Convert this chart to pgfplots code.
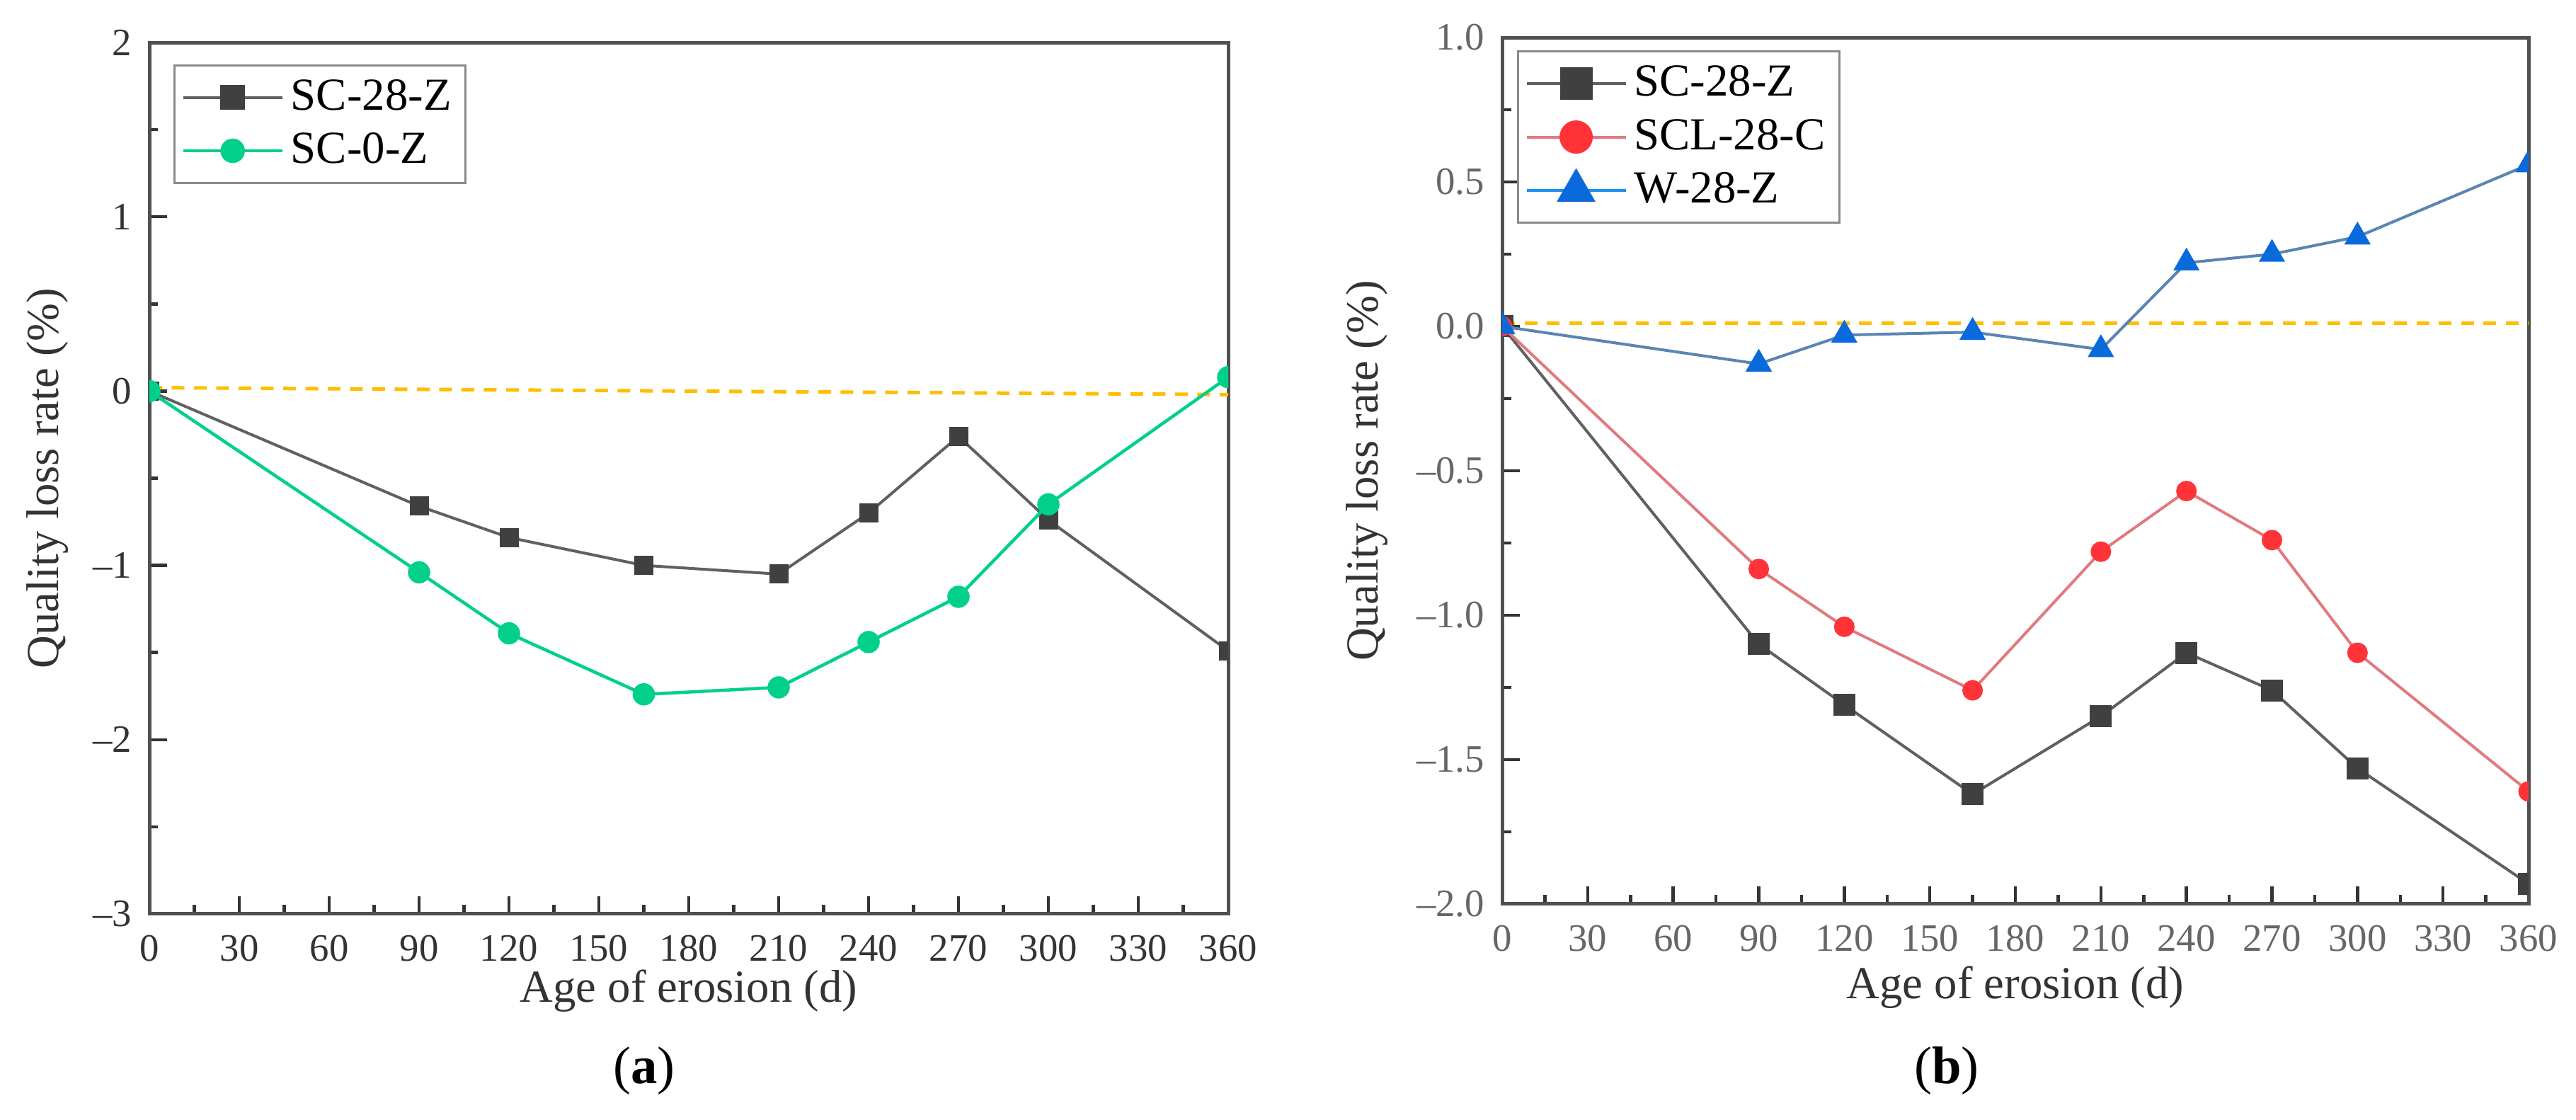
\documentclass[border=0pt]{standalone}
\usepackage{fontspec}
\setmainfont{Liberation Serif}
\usepackage{pgfplots}
\pgfplotsset{compat=1.18}

\definecolor{axgray}{HTML}{505050}
\definecolor{lgray}{HTML}{8A8A8A}
\definecolor{scline}{HTML}{606060}
\definecolor{scmark}{HTML}{404040}
\definecolor{szgreen}{HTML}{00D08A}
\definecolor{sclline}{HTML}{E07A80}
\definecolor{sclmark}{HTML}{FF3338}
\definecolor{wline}{HTML}{5A84B4}
\definecolor{wmark}{HTML}{0A6ADC}
\definecolor{wleg}{HTML}{2090F0}
\definecolor{refline}{HTML}{FFBE00}

\pgfplotsset{
  panel/.style={
    scale only axis, anchor=south west,
    xmin=0, xmax=360, xtick={0,30,...,360}, minor x tick num=1,
    tick align=inside, tick pos=left,
    major tick length=5bp, minor tick length=2.5bp,
    axis line style={line width=1bp, color=axgray},
    every tick/.style={line width=0.9bp, color=black!80},
    /pgf/number format/assume math mode=true,
    ticklabel style={font=\fontsize{11}{13}\selectfont},
    xticklabel style={yshift=-2.5bp},
    yticklabel style={xshift=-1.5bp},
    label style={font=\fontsize{13}{15}\selectfont, text=black!80},
    xlabel={Age of erosion (d)},
    ylabel={Quality loss rate (\%)},
    clip marker paths=true,
    legend cell align=left,
    legend image code/.code={\draw[mark repeat=2,mark phase=2,##1]
      plot coordinates {(0bp,0bp) (14bp,0bp) (28bp,0bp)};},
    legend style={anchor=north west, draw=lgray, line width=0.6bp,
      font=\fontsize{13}{15}\selectfont, inner xsep=2bp, inner ysep=2bp,
      row sep=1bp},
  },
  dashref/.style={color=refline, line width=1bp, dash pattern=on 3.6bp off 2.7bp, forget plot},
  scA/.style={color=scline, line width=0.8bp, mark=square*, mark options={solid, fill=scmark, draw=scmark}},
  szA/.style={color=szgreen, line width=0.9bp, mark=*, mark options={solid, fill=szgreen, draw=szgreen}},
  sclB/.style={color=sclline, line width=0.8bp, mark=*, mark options={solid, fill=sclmark, draw=sclmark}},
  wB/.style={color=wline, line width=0.8bp, mark=triangle*, mark options={solid, fill=wmark, draw=wmark}},
}

\begin{document}
\begin{tikzpicture}
\path (0,0) rectangle (727.8bp,316.4bp);

% (a)
\begin{axis}[panel,
  at={(42.2bp,58.2bp)}, width=304.8bp, height=246.2bp,
  ymin=-3, ymax=2, ytick={-3,-2,-1,0,1,2},
  yticklabels={–3,–2,–1,0,1,2}, minor y tick num=1,
  ticklabel style={text=black!80},
  xlabel style={at={(axis description cs:0.5,0)}, anchor=center, yshift=-21.8bp},
  ylabel style={at={(axis description cs:0,0.5)}, anchor=center, yshift=28.8bp},
  legend style={at={(0.0223,0.975)}},
]
\addplot[dashref] coordinates {(0,0.02) (360,-0.02)};
\addplot[scA, mark size=2.3bp, forget plot] coordinates {
  (0,0) (90,-0.66) (120,-0.84) (165,-1.00) (210,-1.05)
  (240,-0.70) (270,-0.26) (300,-0.74) (360,-1.49)};
\addplot[szA, mark size=2.7bp, forget plot] coordinates {
  (0,0) (90,-1.04) (120,-1.39) (165,-1.74) (210,-1.70)
  (240,-1.44) (270,-1.18) (300,-0.65) (360,0.08)};
\addlegendimage{scA, mark size=3.1bp}
\addlegendentry{SC-28-Z}
\addlegendimage{szA, mark size=3.0bp}
\addlegendentry{SC-0-Z}
\end{axis}

% (b)
\begin{axis}[panel,
  at={(424.4bp,61bp)}, width=290bp, height=244.8bp,
  ymin=-2, ymax=1, ytick={-2,-1.5,-1,-0.5,0,0.5,1},
  yticklabels={–2.0,–1.5,–1.0,–0.5,0.0,0.5,1.0}, minor y tick num=1,
  ticklabel style={text=black!60},
  xlabel style={at={(axis description cs:0.5,0)}, anchor=center, yshift=-23.6bp},
  ylabel style={at={(axis description cs:0,0.5)}, anchor=center, yshift=38.2bp},
  legend style={at={(0.0145,0.985)}},
]
\addplot[dashref] coordinates {(0,0.01) (360,0.01)};
\addplot[scA, mark size=2.7bp, forget plot] coordinates {
  (0,0) (90,-1.10) (120,-1.31) (165,-1.62) (210,-1.35)
  (240,-1.13) (270,-1.26) (300,-1.53) (360,-1.93)};
\addplot[sclB, mark size=2.5bp, forget plot] coordinates {
  (0,0) (90,-0.84) (120,-1.04) (165,-1.26) (210,-0.78)
  (240,-0.57) (270,-0.74) (300,-1.13) (360,-1.61)};
\addplot[wB, mark size=3.5bp, forget plot] coordinates {
  (0,0) (90,-0.13) (120,-0.03) (165,-0.02) (210,-0.08)
  (240,0.22) (270,0.25) (300,0.31) (360,0.56)};
\addlegendimage{scA, mark size=4.2bp}
\addlegendentry{SC-28-Z}
\addlegendimage{sclB, mark size=4.3bp}
\addlegendentry{SCL-28-C}
\addlegendimage{wB, color=wleg, mark size=5.5bp}
\addlegendentry{W-28-Z}
\end{axis}

\node[font=\fontsize{15}{17}\selectfont] at (182bp,13.8bp) {(\textbf{a})};
\node[font=\fontsize{15}{17}\selectfont] at (550bp,13.8bp) {(\textbf{b})};
\end{tikzpicture}
\end{document}
